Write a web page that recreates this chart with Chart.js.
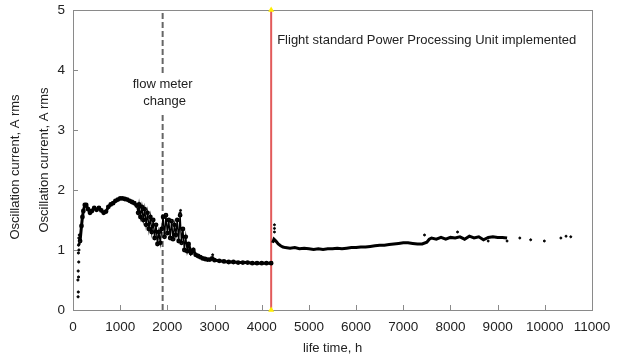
<!DOCTYPE html>
<html>
<head>
<meta charset="utf-8">
<script src="https://cdn.jsdelivr.net/npm/chart.js@4"></script>
<style>
  body { margin: 0; background: #fff; }
  canvas { display: block; }
</style>
</head>
<body>
<canvas id="oscChart" width="617" height="359"></canvas>
<script>
// sparse start-up readings (h, A rms)
const earlyHours = [108, 112, 104, 118, 110, 122, 114, 126, 118, 130, 124, 134];
const earlyValues = [0.22, 0.3, 0.5, 0.55, 0.65, 0.8, 0.95, 1.0, 1.08, 1.1, 1.2, 1.25];

// before the flight PPU
const preHours = [150, 180, 200, 220, 250, 280, 320, 360, 400, 450, 500, 550, 600, 650, 700, 750, 800, 850, 900, 950,
  1000, 1050, 1100, 1150, 1200, 1250, 1300, 1350, 1380, 1400, 1430, 1460, 1490, 1520, 1550, 1580, 1610, 1640, 1670, 1700,
  1730, 1760, 1790, 1820, 1850, 1880, 1910, 1940, 1970, 2000, 2030, 2060, 2090, 2120, 2150, 2180, 2210, 2240, 2270, 2300,
  2330, 2360, 2390, 2420, 2450, 2500, 2550, 2600, 2650, 2700, 2750, 2800, 2850, 2900, 2950, 3000, 3100, 3200, 3300, 3400,
  3500, 3600, 3700, 3800, 3900, 4000, 4100, 4200];
const preValues = [1.15, 1.4, 1.55, 1.65, 1.75, 1.75, 1.68, 1.62, 1.65, 1.7, 1.67, 1.7, 1.66, 1.62, 1.64, 1.72, 1.76, 1.78, 1.82, 1.84,
  1.86, 1.86, 1.85, 1.84, 1.82, 1.8, 1.78, 1.74, 1.62, 1.76, 1.55, 1.72, 1.5, 1.68, 1.42, 1.62, 1.35, 1.55, 1.3, 1.5,
  1.2, 1.42, 1.1, 1.3, 1.12, 1.35, 1.55, 1.22, 1.58, 1.28, 1.5, 1.2, 1.48, 1.18, 1.42, 1.25, 1.5, 1.15, 1.58, 1.12,
  1.35, 1.0, 1.22, 0.98, 1.1, 0.95, 1.0, 0.92, 0.9, 0.88, 0.86, 0.85, 0.84, 0.84, 0.86, 0.83, 0.82, 0.81, 0.8, 0.8,
  0.79, 0.79, 0.79, 0.78, 0.78, 0.78, 0.78, 0.78];

// after the flight PPU
const postHours = [4230, 4260, 4300, 4350, 4400, 4450, 4500, 4600, 4700, 4800, 4900, 5000, 5100, 5200, 5300, 5400, 5500, 5600,
  5700, 5800, 5900, 6000, 6100, 6200, 6300, 6400, 6500, 6600, 6700, 6800, 6900, 7000, 7100, 7200, 7300, 7400, 7500, 7550,
  7600, 7700, 7800, 7900, 8000, 8100, 8200, 8300, 8400, 8500, 8600, 8700, 8800, 8900, 9000, 9100, 9200];
const postValues = [1.12, 1.18, 1.15, 1.1, 1.07, 1.05, 1.04, 1.03, 1.04, 1.02, 1.03, 1.02, 1.01, 1.02, 1.01, 1.02, 1.02, 1.03,
  1.02, 1.03, 1.04, 1.04, 1.05, 1.05, 1.06, 1.07, 1.08, 1.08, 1.09, 1.1, 1.11, 1.12, 1.12, 1.11, 1.1, 1.1, 1.13, 1.18,
  1.2, 1.18, 1.21, 1.18, 1.21, 1.2, 1.22, 1.18, 1.23, 1.2, 1.22, 1.17, 1.21, 1.22, 1.21, 1.21, 1.2];

// stray readings
const strayHours = [2270, 2280, 2960, 4270, 4270, 4270, 7450, 8150, 8800, 9200, 9470, 9700, 9990, 10340, 10450, 10550];
const strayValues = [1.62, 1.66, 0.92, 1.42, 1.36, 1.3, 1.25, 1.3, 1.15, 1.15, 1.2, 1.17, 1.15, 1.2, 1.23, 1.22];

const flowMeterHour = 1900;
const ppuHour = 4200;

const xTicks = [0, 1000, 2000, 3000, 4000, 5000, 6000, 7000, 8000, 9000, 10000, 11000];
const yTicks = [0, 1, 2, 3, 4, 5];

function pts(xs, ys) {
  return xs.map((x, i) => ({ x: x, y: ys[i] }));
}

const FONT = "'Liberation Sans', Arial, sans-serif";

const framePlugin = {
  id: "frame",
  beforeDatasetsDraw(chart) {
    const { ctx, chartArea: a, scales } = chart;
    ctx.save();
    ctx.strokeStyle = "#8a8a8a";
    ctx.lineWidth = 1;
    ctx.strokeRect(a.left + 0.5, a.top + 0.5, a.right - a.left, a.bottom - a.top);
    ctx.beginPath();
    xTicks.forEach(t => {
      const px = Math.round(scales.x.getPixelForValue(t)) + 0.5;
      ctx.moveTo(px, a.bottom);
      ctx.lineTo(px, a.bottom - 5);
    });
    yTicks.forEach(t => {
      const py = Math.round(scales.y.getPixelForValue(t)) + 0.5;
      ctx.moveTo(a.left, py);
      ctx.lineTo(a.left + 5, py);
    });
    ctx.stroke();
    ctx.restore();
  },
  afterDraw(chart) {
    const { ctx, chartArea: a, scales } = chart;
    ctx.save();
    ctx.fillStyle = "#222";
    ctx.font = "13px " + FONT;
    ctx.textBaseline = "middle";
    ctx.textAlign = "center";
    const fx = scales.x.getPixelForValue(flowMeterHour);
    ctx.fillText("flow meter", fx, 84);
    ctx.fillText("change", fx + 2, 101);
    ctx.textAlign = "left";
    ctx.fillText("Flight standard Power Processing Unit implemented", scales.x.getPixelForValue(ppuHour) + 6, 40);
    ctx.textAlign = "center";
    ctx.fillText("life time, h", (a.left + a.right) / 2, 348);
    [[15, 167], [44, 160]].forEach(p => {
      ctx.save();
      ctx.translate(p[0], p[1]);
      ctx.rotate(-Math.PI / 2);
      ctx.fillText("Oscillation current, A rms", 0, 0);
      ctx.restore();
    });
    ctx.restore();
  }
};

// the noisy stretch around the flow meter change is drawn thinner
function noisy(x) {
  return x >= 1350 && x < 2450;
}

new Chart("oscChart", {
  type: "scatter",
  data: {
    datasets: [
      {
        data: pts(earlyHours, earlyValues),
        backgroundColor: "#000", borderColor: "#000",
        pointRadius: 1.1, showLine: false
      },
      {
        data: pts(preHours, preValues),
        borderColor: "#000", backgroundColor: "#000",
        borderWidth: 3, pointRadius: 0.9, showLine: true, tension: 0,
        segment: { borderWidth: c => noisy(c.p0.parsed.x) ? 1.4 : 3 }
      },
      {
        data: pts(postHours, postValues),
        borderColor: "#000", backgroundColor: "#000",
        borderWidth: 3, pointRadius: 0, showLine: true, tension: 0
      },
      {
        data: pts(strayHours, strayValues),
        backgroundColor: "#000", borderColor: "#000",
        pointRadius: 1, showLine: false
      },
      {
        // flow meter change, broken around the note
        data: [{ x: flowMeterHour, y: 0 }, { x: flowMeterHour, y: 3.3 }, { x: flowMeterHour, y: null },
               { x: flowMeterHour, y: 3.95 }, { x: flowMeterHour, y: 5 }],
        borderColor: "#666", borderWidth: 2, borderDash: [6, 3],
        pointRadius: 0, showLine: true, spanGaps: false
      },
      {
        data: [{ x: ppuHour, y: 0 }, { x: ppuHour, y: 5 }],
        borderColor: "#e25a5a", borderWidth: 2,
        pointStyle: "triangle", pointRadius: 3.5,
        pointBackgroundColor: "#ffee00", pointBorderColor: "#ffee00", pointBorderWidth: 0,
        showLine: true, clip: false
      }
    ]
  },
  options: {
    responsive: false,
    animation: false,
    devicePixelRatio: 1,
    layout: { padding: { top: 10, right: 25, left: 0, bottom: 0 } },
    plugins: { legend: { display: false }, tooltip: { enabled: false } },
    scales: {
      x: {
        type: "linear", min: 0, max: 11000,
        afterFit(s) { s.height = 49; s.paddingLeft = 0; s.paddingRight = 0; },
        afterBuildTicks(s) { s.ticks = xTicks.map(v => ({ value: v })); },
        grid: { display: false, drawTicks: false },
        border: { display: false },
        ticks: {
          padding: 9, color: "#222", font: { family: FONT, size: 13.5 }, maxRotation: 0, autoSkip: false,
          callback: v => String(v)
        }
      },
      y: {
        min: 0, max: 5,
        afterFit(s) { s.width = 73; s.paddingTop = 0; s.paddingBottom = 0; },
        afterBuildTicks(s) { s.ticks = yTicks.map(v => ({ value: v })); },
        grid: { display: false, drawTicks: false },
        border: { display: false },
        ticks: { padding: 8, color: "#222", font: { family: FONT, size: 13.5 }, callback: v => String(v) }
      }
    }
  },
  plugins: [framePlugin]
});
</script>
</body>
</html>
